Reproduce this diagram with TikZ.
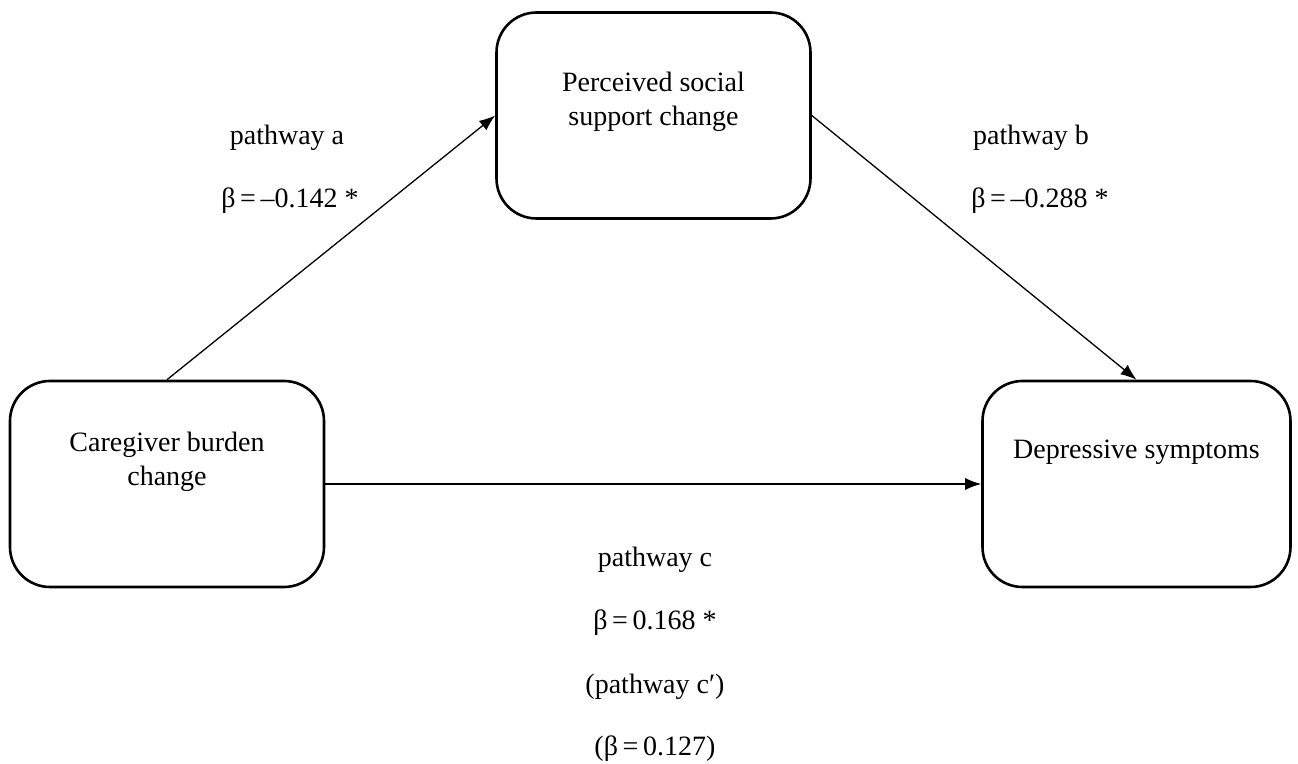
\documentclass[tikz,border=0pt]{standalone}
\usepackage{fontspec}
\setmainfont{Liberation Serif}
\tikzstyle{var}=[rectangle,rounded corners=20pt,draw=black,line width=1.3pt,
minimum width=157pt,minimum height=103pt]
\tikzstyle{coef}=[inner sep=1pt]
\tikzstyle{link}=[line width=0.65pt]
\usetikzlibrary{arrows.meta,positioning}

\begin{document}
\begin{tikzpicture}[x=0.5pt,y=-0.5pt,>={Latex[length=8pt,width=6pt]},
    font=\fontsize{14}{17}\selectfont]
            \useasboundingbox (0,0) rectangle (1298,764);

            % VARIABLES

            \node[var,label={[align=center,yshift=7pt]center:Perceived social\\support change}] (pss) at (653.5,115.5) {};
            \node[var,label={[align=center,yshift=11pt]center:Caregiver burden\\change}] (cbc) at (167,484) {};
            \node[var,minimum width=154pt,label={[yshift=16pt]center:Depressive symptoms}] (dep) at (1136.5,484) {};

            \path[->,link] (cbc.north) edge node {} (pss.west);
            \path[->,link] (pss.east) edge node {} (dep.north);
            \path[->,link] (cbc.east) edge node {} (dep.west);

            % COEFFICIENTS

            \node[coef] (pa) at (287,138) {pathway a};
            \node[coef] (ba) at (290,201) {β\,=\,–0.142 *};
            \node[coef] (pb) at (1031,138) {pathway b};
            \node[coef] (bb) at (1040,201) {β\,=\,–0.288 *};
            \node[coef] (pc) at (655,560) {pathway c};
            \node[coef] (bc) at (655,623) {β\,=\,0.168 *};
            \node[coef] (pcp) at (655,687) {(pathway c′)};
            \node[coef] (bcp) at (655,749) {(β\,=\,0.127)};

        \end{tikzpicture}
\end{document}
